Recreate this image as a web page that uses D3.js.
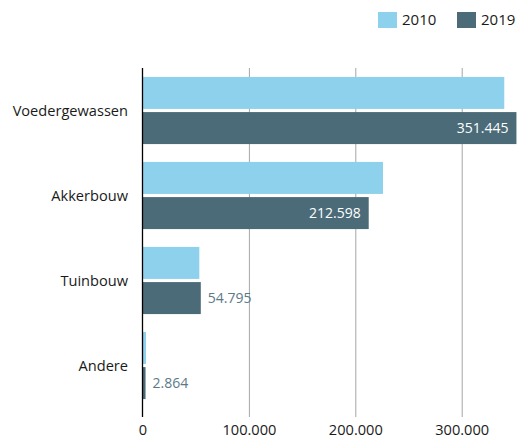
<!DOCTYPE html>
<html lang="nl">
<head>
<meta charset="UTF-8">
<title>Oppervlakte per teelt</title>
<script src="https://cdn.jsdelivr.net/npm/d3@7"></script>
<style>
  body { margin: 0; background: #fff; overflow: hidden; }
  svg { display: block; }
  svg text { font-family: "Open Sans", sans-serif; }
</style>
</head>
<body>
<svg id="chart" width="518" height="438"></svg>
<script>
// data (hectare)
var categories = ["Voedergewassen", "Akkerbouw", "Tuinbouw", "Andere"];
var series = ["2010", "2019"];
var values2010 = [340000, 226000, 53400, 3300];
var values2019 = [351445, 212598, 54795, 2864];
var xTicks = [0, 100000, 200000, 300000];

var colors = { "2010": "#8dd1ec", "2019": "#4b6b78" };

var svg = d3.select("#chart");
var plotLeft = 142.5, plotTop = 68, plotBottom = 417;

var nl = d3.formatLocale({ decimal: ",", thousands: ".", grouping: [3], currency: ["", ""] });
var fmt = nl.format(",d");

var x = d3.scaleLinear().domain([0, 400000]).range([plotLeft, plotLeft + 425.6]);

var y0 = d3.scaleBand().domain(categories).range([plotTop, 408])
    .paddingInner(0.21).paddingOuter(0.105);
var y1 = d3.scaleBand().domain(series).range([0, y0.bandwidth()]).paddingInner(0.09);

// grid lines
svg.append("g")
    .attr("transform", "translate(0," + plotBottom + ")")
    .call(d3.axisBottom(x).tickValues(xTicks.slice(1)).tickSize(-(plotBottom - plotTop)).tickFormat(""))
    .call(g => g.select(".domain").remove())
    .call(g => g.selectAll(".tick line").attr("stroke", "#a6a6a6"));

var rows = categories.map(function (c, i) {
    return { cat: c, vals: [{ s: "2010", v: values2010[i] }, { s: "2019", v: values2019[i] }] };
});

var grp = svg.append("g").selectAll("g")
    .data(rows).enter().append("g")
    .attr("transform", d => "translate(0," + y0(d.cat) + ")");

grp.selectAll("rect")
    .data(d => d.vals).enter().append("rect")
    .attr("x", x(0))
    .attr("y", d => y1(d.s))
    .attr("width", d => x(d.v) - x(0))
    .attr("height", y1.bandwidth())
    .attr("fill", d => colors[d.s]);

// value labels for 2019
grp.append("text")
    .datum(d => d.vals[1])
    .attr("y", y1("2019") + y1.bandwidth() / 2)
    .attr("dy", "0.35em")
    .attr("font-size", 14)
    .each(function (d) {
        var inside = d.v > 100000;
        d3.select(this)
            .attr("x", inside ? x(d.v) - 8 : x(d.v) + 7)
            .attr("text-anchor", inside ? "end" : "start")
            .attr("fill", inside ? "#ffffff" : "#5b7a88")
            .text(fmt(d.v));
    });

// zero line
svg.append("line")
    .attr("x1", x(0)).attr("x2", x(0))
    .attr("y1", plotTop).attr("y2", plotBottom)
    .attr("stroke", "#000").attr("stroke-width", 1.3);

// category labels
svg.append("g").selectAll("text")
    .data(categories).enter().append("text")
    .attr("x", 128)
    .attr("y", d => y0(d) + y0.bandwidth() / 2)
    .attr("dy", "0.35em")
    .attr("text-anchor", "end")
    .attr("font-size", 14.6)
    .attr("fill", "#1a1a1a")
    .text(d => d);

// x axis labels
svg.append("g")
    .attr("transform", "translate(0," + plotBottom + ")")
    .call(d3.axisBottom(x).tickValues(xTicks).tickSize(0).tickPadding(8).tickFormat(fmt))
    .call(g => g.select(".domain").remove())
    .call(g => g.selectAll("text").attr("font-size", 14.6).attr("fill", "#1a1a1a")
        .style("font-family", "'Open Sans', sans-serif"));

// legend
var legX = [378, 457];
var leg = svg.append("g").selectAll("g")
    .data(series).enter().append("g")
    .attr("transform", (d, i) => "translate(" + legX[i] + ",12)");
leg.append("rect").attr("width", 19).attr("height", 16).attr("fill", d => colors[d]);
leg.append("text").attr("x", 24).attr("y", 8).attr("dy", "0.35em")
    .attr("font-size", 15).attr("fill", "#1a1a1a").text(d => d);
</script>
</body>
</html>
